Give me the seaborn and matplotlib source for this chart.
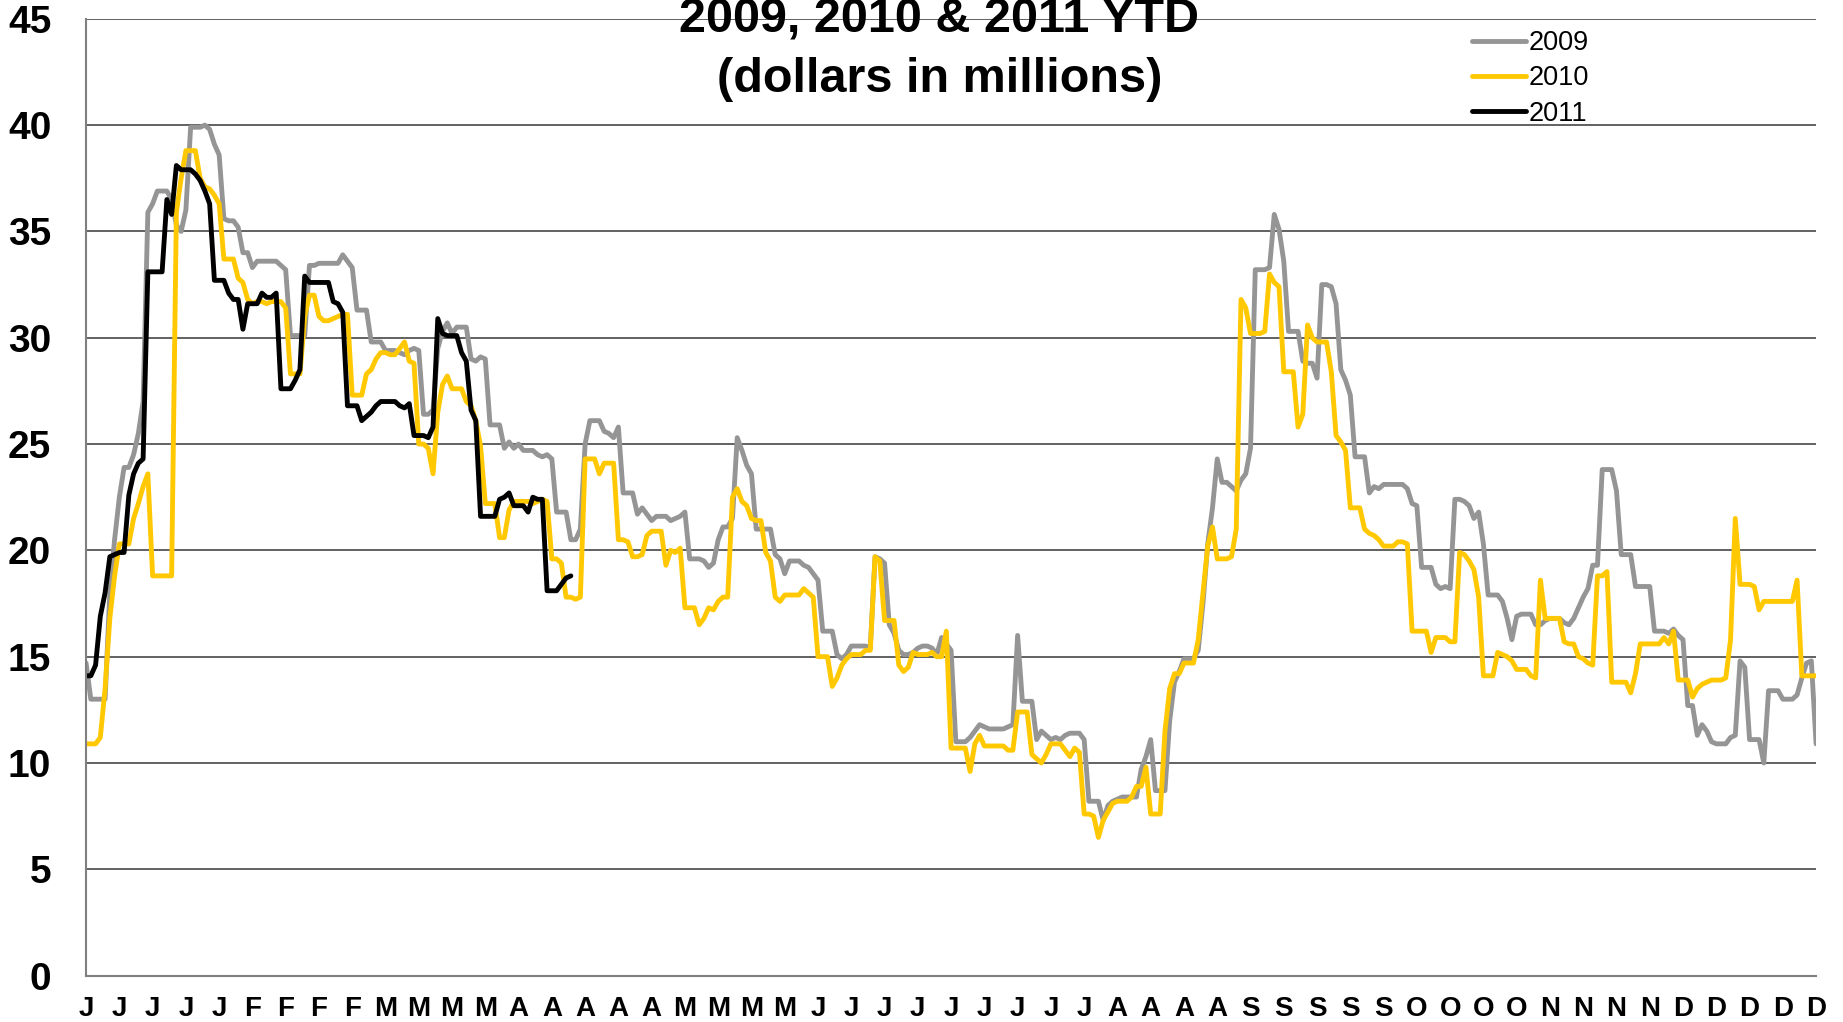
import numpy as np
import pandas as pd
import matplotlib
matplotlib.use("Agg")
import matplotlib.pyplot as plt
from matplotlib.ticker import MultipleLocator, FixedLocator
import seaborn as sns

# ---------------- data (daily values, one row per week) ----------------
years = ["2009", "2010", "2011"]
colors = {"2009": "#959595", "2010": "#FFC800", "2011": "#000000"}

v2009 = [
    14.7, 13.0, 13.0, 13.0, 13.0, 18.0, 20.5,
    22.5, 23.9, 23.9, 24.5, 25.5, 27.0, 35.9,
    36.3, 36.9, 36.9, 36.9, 36.5, 35.3, 35.0,
    36.0, 39.9, 39.9, 39.9, 40.0, 39.8, 39.1,
    38.6, 35.6, 35.5, 35.5, 35.2, 34.0, 34.0,
    33.3, 33.6, 33.6, 33.6, 33.6, 33.6, 33.4,
    33.2, 30.1, 30.1, 30.1, 30.1, 33.4, 33.4,
    33.5, 33.5, 33.5, 33.5, 33.5, 33.9, 33.6,
    33.3, 31.3, 31.3, 31.3, 29.8, 29.8, 29.8,
    29.4, 29.4, 29.4, 29.3, 29.2, 29.4, 29.5,
    29.4, 26.4, 26.4, 26.6, 29.5, 30.3, 30.7,
    30.2, 30.5, 30.5, 30.5, 29.0, 28.9, 29.1,
    29.0, 25.9, 25.9, 25.9, 24.8, 25.1, 24.8,
    25.0, 24.7, 24.7, 24.7, 24.5, 24.4, 24.5,
    24.3, 21.8, 21.8, 21.8, 20.5, 20.5, 21.0,
    25.0, 26.1, 26.1, 26.1, 25.6, 25.5, 25.3,
    25.8, 22.7, 22.7, 22.7, 21.7, 22.0, 21.7,
    21.4, 21.6, 21.6, 21.6, 21.4, 21.5, 21.6,
    21.8, 19.6, 19.6, 19.6, 19.5, 19.2, 19.4,
    20.5, 21.1, 21.1, 21.5, 25.3, 24.7, 24.0,
    23.6, 21.0, 21.0, 21.0, 21.0, 19.8, 19.6,
    18.9, 19.5, 19.5, 19.5, 19.3, 19.2, 18.9,
    18.6, 16.2, 16.2, 16.2, 15.1, 14.9, 15.1,
    15.5, 15.5, 15.5, 15.5, 15.4, 19.7, 19.6,
    19.4, 16.5, 16.1, 15.3, 15.1, 15.1, 15.2,
    15.4, 15.5, 15.5, 15.4, 15.1, 15.9, 15.6,
    15.3, 11.0, 11.0, 11.0, 11.2, 11.5, 11.8,
    11.7, 11.6, 11.6, 11.6, 11.6, 11.7, 11.8,
    16.0, 12.9, 12.9, 12.9, 11.1, 11.5, 11.3,
    11.1, 11.2, 11.1, 11.3, 11.4, 11.4, 11.4,
    11.1, 8.2, 8.2, 8.2, 7.3, 8.0, 8.2,
    8.3, 8.4, 8.4, 8.4, 8.4, 9.7, 10.3,
    11.1, 8.7, 8.7, 8.7, 12.0, 13.8, 14.3,
    14.9, 14.9, 14.9, 15.3, 17.5, 20.3, 22.0,
    24.3, 23.2, 23.2, 23.0, 22.8, 23.3, 23.6,
    24.8, 33.2, 33.2, 33.2, 33.3, 35.8, 35.1,
    33.6, 30.3, 30.3, 30.3, 28.9, 28.8, 28.8,
    28.1, 32.5, 32.5, 32.4, 31.6, 28.5, 28.0,
    27.3, 24.4, 24.4, 24.4, 22.7, 23.0, 22.9,
    23.1, 23.1, 23.1, 23.1, 23.1, 22.9, 22.2,
    22.1, 19.2, 19.2, 19.2, 18.4, 18.2, 18.3,
    18.2, 22.4, 22.4, 22.3, 22.1, 21.5, 21.8,
    20.3, 17.9, 17.9, 17.9, 17.6, 16.8, 15.8,
    16.9, 17.0, 17.0, 17.0, 16.5, 16.5, 16.7,
    16.8, 16.8, 16.8, 16.6, 16.5, 16.8, 17.3,
    17.8, 18.2, 19.3, 19.3, 23.8, 23.8, 23.8,
    22.8, 19.8, 19.8, 19.8, 18.3, 18.3, 18.3,
    18.3, 16.2, 16.2, 16.2, 16.1, 16.3, 16.0,
    15.8, 12.7, 12.7, 11.3, 11.8, 11.5, 11.0,
    10.9, 10.9, 10.9, 11.2, 11.3, 14.8, 14.5,
    11.1, 11.1, 11.1, 10.0, 13.4, 13.4, 13.4,
    13.0, 13.0, 13.0, 13.2, 14.0, 14.7, 14.8,
    10.9,
]

v2010 = [
    10.9, 10.9, 10.9, 11.2, 13.5, 16.8, 18.8,
    20.3, 20.3, 20.3, 21.5, 22.2, 23.0, 23.6,
    18.8, 18.8, 18.8, 18.8, 18.8, 35.9, 37.5,
    38.8, 38.8, 38.8, 37.5, 37.1, 37.0, 36.7,
    36.3, 33.7, 33.7, 33.7, 32.8, 32.6, 31.8,
    31.6, 31.7, 31.7, 31.6, 31.7, 31.7, 31.7,
    31.4, 28.3, 28.3, 28.3, 31.0, 32.0, 32.0,
    31.0, 30.8, 30.8, 30.9, 31.0, 31.1, 31.1,
    27.3, 27.3, 27.3, 28.3, 28.5, 29.0, 29.3,
    29.3, 29.2, 29.2, 29.5, 29.8, 28.9, 28.8,
    25.0, 25.0, 24.8, 23.6, 26.5, 27.8, 28.2,
    27.6, 27.6, 27.6, 27.0, 26.8, 26.1, 24.9,
    22.2, 22.2, 22.2, 20.6, 20.6, 21.9, 22.3,
    22.3, 22.3, 22.3, 22.2, 22.3, 22.4, 22.3,
    19.6, 19.6, 19.4, 17.8, 17.8, 17.7, 17.8,
    24.3, 24.3, 24.3, 23.6, 24.1, 24.1, 24.1,
    20.5, 20.5, 20.4, 19.7, 19.7, 19.8, 20.7,
    20.9, 20.9, 20.9, 19.3, 20.0, 19.9, 20.1,
    17.3, 17.3, 17.3, 16.5, 16.8, 17.3, 17.2,
    17.6, 17.8, 17.8, 22.5, 22.9, 22.3, 22.1,
    21.5, 21.4, 21.4, 19.9, 19.5, 17.8, 17.6,
    17.9, 17.9, 17.9, 17.9, 18.2, 18.0, 17.8,
    15.0, 15.0, 15.0, 13.6, 14.0, 14.6, 14.9,
    15.1, 15.1, 15.1, 15.3, 15.3, 19.7, 19.5,
    16.7, 16.7, 16.7, 14.6, 14.3, 14.5, 15.2,
    15.1, 15.1, 15.1, 15.2, 15.0, 15.0, 16.2,
    10.7, 10.7, 10.7, 10.7, 9.6, 10.9, 11.3,
    10.8, 10.8, 10.8, 10.8, 10.8, 10.6, 10.6,
    12.4, 12.4, 12.4, 10.4, 10.2, 10.0, 10.4,
    10.9, 10.9, 10.9, 10.6, 10.3, 10.7, 10.5,
    7.6, 7.6, 7.5, 6.5, 7.3, 7.7, 8.1,
    8.2, 8.2, 8.2, 8.4, 8.9, 8.9, 9.8,
    7.6, 7.6, 7.6, 11.5, 13.5, 14.2, 14.2,
    14.7, 14.7, 14.7, 15.8, 18.0, 20.2, 21.1,
    19.6, 19.6, 19.6, 19.7, 21.0, 31.8, 31.4,
    30.2, 30.2, 30.2, 30.3, 33.0, 32.6, 32.4,
    28.4, 28.4, 28.4, 25.8, 26.4, 30.6, 30.0,
    29.8, 29.8, 29.8, 28.4, 25.4, 25.1, 24.7,
    22.0, 22.0, 22.0, 21.0, 20.8, 20.7, 20.5,
    20.2, 20.2, 20.2, 20.4, 20.4, 20.3, 16.2,
    16.2, 16.2, 16.2, 15.2, 15.9, 15.9, 15.9,
    15.7, 15.7, 19.9, 19.8, 19.5, 19.1, 17.8,
    14.1, 14.1, 14.1, 15.2, 15.1, 15.0, 14.8,
    14.4, 14.4, 14.4, 14.1, 14.0, 18.6, 16.8,
    16.8, 16.8, 16.8, 15.7, 15.6, 15.6, 15.0,
    14.9, 14.7, 14.6, 18.8, 18.8, 19.0, 13.8,
    13.8, 13.8, 13.8, 13.3, 14.2, 15.6, 15.6,
    15.6, 15.6, 15.6, 15.9, 15.6, 16.2, 13.9,
    13.9, 13.9, 13.1, 13.5, 13.7, 13.8, 13.9,
    13.9, 13.9, 14.0, 15.8, 21.5, 18.4, 18.4,
    18.4, 18.3, 17.2, 17.6, 17.6, 17.6, 17.6,
    17.6, 17.6, 17.6, 18.6, 14.1, 14.1, 14.1,
    14.1,
]

v2011 = [
    14.1, 14.1, 14.6, 16.9, 18.0, 19.7, 19.8,
    19.9, 19.9, 22.6, 23.6, 24.1, 24.3, 33.1,
    33.1, 33.1, 33.1, 36.5, 35.8, 38.1, 37.9,
    37.9, 37.9, 37.7, 37.4, 36.9, 36.3, 32.7,
    32.7, 32.7, 32.1, 31.8, 31.8, 30.4, 31.6,
    31.6, 31.6, 32.1, 31.9, 31.9, 32.1, 27.6,
    27.6, 27.6, 28.0, 28.5, 32.9, 32.6, 32.6,
    32.6, 32.6, 32.6, 31.7, 31.6, 31.2, 26.8,
    26.8, 26.8, 26.1, 26.3, 26.5, 26.8, 27.0,
    27.0, 27.0, 27.0, 26.8, 26.7, 26.9, 25.4,
    25.4, 25.4, 25.3, 25.8, 30.9, 30.2, 30.1,
    30.1, 30.1, 29.3, 28.9, 26.6, 26.1, 21.6,
    21.6, 21.6, 21.6, 22.4, 22.5, 22.7, 22.1,
    22.1, 22.1, 21.8, 22.5, 22.4, 22.4, 18.1,
    18.1, 18.1, 18.4, 18.7, 18.8,
]

week_labels = (["J"] * 5 + ["F"] * 4 + ["M"] * 4 + ["A"] * 5 + ["M"] * 4 +
               ["J"] * 9 + ["A"] * 4 + ["S"] * 5 + ["O"] * 4 + ["N"] * 4 + ["D"] * 5)

title_line1 = "2009, 2010 & 2011 YTD"
title_line2 = "(dollars in millions)"

# ---------------- build long table ----------------
series = {"2009": v2009, "2010": v2010, "2011": v2011}
frames = []
for y in years:
    vals = series[y]
    frames.append(pd.DataFrame({"day": np.arange(len(vals)), "value": vals, "year": y}))
df = pd.concat(frames, ignore_index=True)

# ---------------- style ----------------
sns.set_style("white")
plt.rcParams["font.family"] = ["Liberation Sans", "DejaVu Sans"]
plt.rcParams["text.color"] = "black"
plt.rcParams["xtick.labelcolor"] = "black"
plt.rcParams["ytick.labelcolor"] = "black"

fig = plt.figure(figsize=(18.43, 10.22), dpi=100)
ax = fig.add_axes([0.0467, 0.0454, 0.9387, 0.9362])

sns.lineplot(data=df, x="day", y="value", hue="year", hue_order=years,
             palette=colors, linewidth=3.5, estimator=None, sort=False,
             legend=False, ax=ax)

ax.set_xlim(0, 364)
ax.set_ylim(0, 45)
ax.set_xlabel("")
ax.set_ylabel("")

# grid
ax.yaxis.set_major_locator(MultipleLocator(5))
ax.grid(axis="y", color="#555555", linewidth=1.3)
ax.grid(axis="x", visible=False)
ax.set_axisbelow(True)

# spines
for s in ["top", "right"]:
    ax.spines[s].set_visible(False)
for s in ["left", "bottom"]:
    ax.spines[s].set_color("#808080")
    ax.spines[s].set_linewidth(1.5)

# x ticks
ax.xaxis.set_major_locator(FixedLocator(np.arange(0, 365, 7)))
ax.set_xticklabels(week_labels)
ax.xaxis.set_minor_locator(MultipleLocator(1))
ax.tick_params(axis="x", which="both", direction="out", length=4, width=1,
               color="#808080", pad=11, labelcolor="black")
ax.tick_params(axis="x", which="major", labelsize=20)
for lbl in ax.get_xticklabels():
    lbl.set_fontweight("bold")

# y ticks
ax.tick_params(axis="y", which="major", direction="out", length=9, width=1.2,
               color="#808080", labelsize=28, pad=16, labelcolor="black")
for lbl in ax.get_yticklabels():
    lbl.set_fontweight("bold")

# legend
handles = ax.get_lines()[:3]
leg = ax.legend(handles, years, loc="upper left",
                bbox_to_anchor=(1472 / 1843, 1 - 30 / 1022),
                bbox_transform=fig.transFigure, frameon=False,
                fontsize=19.5, handlelength=2.0, handletextpad=0.1,
                labelspacing=0.35, borderaxespad=0, borderpad=0)
for t in leg.get_texts():
    t.set_color("black")

# title (partly clipped at top, like the reference)
fig.text(0.5096, 1 - 20 / 1022, title_line1, ha="center", va="center",
         fontsize=35, fontweight="bold", color="black", zorder=10)
fig.text(0.5096, 1 - 80 / 1022, title_line2, ha="center", va="center",
         fontsize=35, fontweight="bold", color="black", zorder=10)

fig.savefig("out.png", dpi=100)
